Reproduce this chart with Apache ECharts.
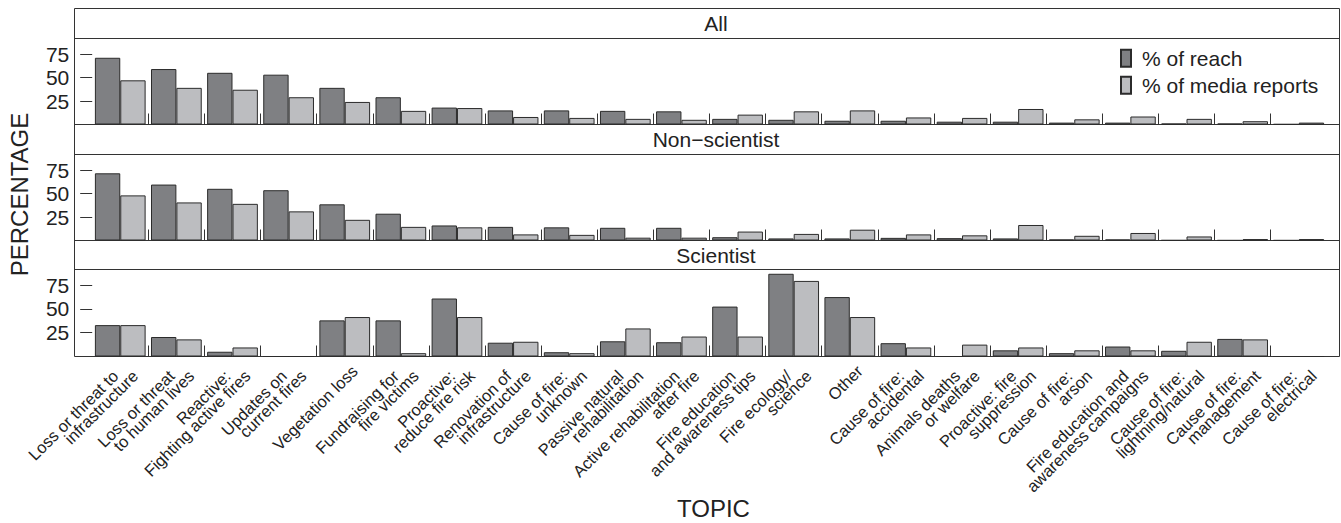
<!DOCTYPE html>
<html><head><meta charset="utf-8">
<script src="https://cdn.jsdelivr.net/npm/echarts@6/dist/echarts.min.js"></script>
<style>html,body{margin:0;padding:0;background:#fff}#c{width:1341px;height:523px}</style>
</head><body><div id="c"></div>
<script>
// ---------- data ----------
const categories = [
  'Loss or threat to\ninfrastructure',
  'Loss or threat\nto human lives',
  'Reactive:\nFighting active fires',
  'Updates on\ncurrent fires',
  'Vegetation loss',
  'Fundraising for\nfire victims',
  'Proactive:\nreduce fire risk',
  'Renovation of\ninfrastructure',
  'Cause of fire:\nunknown',
  'Passive natural\nrehabilitation',
  'Active rehabilitation\nafter fire',
  'Fire education\nand awareness tips',
  'Fire ecology/\nscience',
  'Other',
  'Cause of fire:\naccidental',
  'Animals deaths\nor welfare',
  'Proactive: fire\nsuppression',
  'Cause of fire:\narson',
  'Fire education and\nawareness campaigns',
  'Cause of fire:\nlightning/natural',
  'Cause of fire:\nmanagement',
  'Cause of fire:\nelectrical'
];
const panelNames = ['All', 'Non\u2212scientist', 'Scientist'];
const seriesNames = ['% of reach', '% of media reports'];

const allReach   = [71, 59, 55, 53, 39, 29, 18, 15, 15, 14.5, 14, 6, 5, 4, 4, 3, 3, 2, 2, 1, 1, 0.3];
const allMedia   = [47, 39, 37, 29, 24, 14.5, 17.5, 8, 7, 6, 5, 10.5, 14, 15, 7.5, 7, 16.5, 5.5, 8.5, 6, 3.5, 2];
const nonReach   = [71.5, 59.5, 55, 53.5, 38.5, 28.5, 16, 14.5, 14, 13.5, 13.5, 3.5, 2.2, 2.2, 2.8, 2.5, 2.2, 1.1, 1.1, 0.3, 0.2, 0.2];
const nonMedia   = [48, 40.5, 39, 31, 22, 14.5, 14, 6.5, 6, 3, 3, 9.5, 7, 11.5, 6.5, 5.5, 16.5, 5, 8, 4.3, 1.5, 1.5];
const sciReach   = [33, 20.5, 5, 0, 38, 38, 61, 14.5, 4.5, 16, 15, 52.5, 87, 62.5, 14, 0, 6.5, 3.5, 10.5, 6, 18.5, 0];
const sciMedia   = [33, 18, 9.5, 0, 41.5, 3.5, 41.5, 15.5, 3.5, 29.5, 21, 21, 79.5, 41.5, 9.5, 12.5, 9.5, 6.5, 6.5, 15.5, 18, 0];
const yTicks = [25, 50, 75];

// ---------- layout / style ----------
const FONT = "'Liberation Sans', Arial, Helvetica, sans-serif";
const TXT = '#222';
const LINE = '#333';
const frameL = 74.5, frameR = 1339.5, frameT = 8.5;
const gridL = 92.2, gridW = 1234.6;
const yTickLen = 12;
const yMax = 91.5;
const panels = [
  { strip: 8.5,   top: 38.5,  bottom: 124.5, reach: allReach, media: allMedia },
  { strip: 124.5, top: 154.5, bottom: 240.5, reach: nonReach, media: nonMedia },
  { strip: 240.5, top: 269.5, bottom: 356.5, reach: sciReach, media: sciMedia }
];
const boundaries = categories.slice(1).map((_, i) => i + 1);

function fmtCat(v) {
  const parts = v.split('\n');
  if (parts.length === 1) return '{b|' + v + '}';
  return '{a|' + parts[0] + '}\n{b|' + parts[1] + '}';
}

const grids = [], xAxes = [], yAxes = [], series = [], graphics = [];
panels.forEach((p, i) => {
  grids.push({ left: gridL, width: gridW, top: p.top, height: p.bottom - p.top });
  xAxes.push({
    gridIndex: i, type: 'category', data: categories, position: 'bottom',
    axisLine: { show: false }, axisTick: { show: false }, splitLine: { show: false },
    axisLabel: i === 2 ? {
      show: true, interval: 0, rotate: 45, align: 'right', verticalAlign: 'middle',
      margin: 1.7, padding: [28, 0, 0, 0],
      fontSize: 16.5, fontFamily: FONT, color: TXT, formatter: fmtCat,
      rich: {
        a: { padding: [0, 14, 0, 0], lineHeight: 14, fontSize: 16.5, fontFamily: FONT, color: TXT },
        b: { lineHeight: 14, fontSize: 16.5, fontFamily: FONT, color: TXT }
      }
    } : { show: false }
  });
  xAxes.push({
    gridIndex: i, type: 'value', position: 'bottom', min: 0, max: categories.length,
    axisLine: { show: false }, splitLine: { show: false }, axisLabel: { show: false },
    axisTick: { show: true, inside: true, length: 11, customValues: boundaries, lineStyle: { color: LINE, width: 1 } }
  });
  // y axis line sits yTickLen right of the frame; outward ticks reach back to the frame edge
  yAxes.push({
    gridIndex: i, type: 'value', min: 0, max: yMax, interval: 25,
    offset: gridL - (frameL + yTickLen),
    axisLine: { show: false }, splitLine: { show: false },
    axisTick: { show: true, inside: false, length: yTickLen, lineStyle: { color: LINE, width: 1 } },
    axisLabel: {
      fontSize: 21, fontFamily: FONT, color: TXT, margin: yTickLen + 5.2, padding: [4, 0, 0, 0],
      formatter: v => (yTicks.indexOf(v) >= 0 ? String(v) : '')
    }
  });
  series.push({
    type: 'bar', name: seriesNames[0], xAxisIndex: 2 * i, yAxisIndex: i, data: p.reach,
    barGap: '0%', barCategoryGap: '9.6%',
    itemStyle: { color: '#7f8083', borderColor: '#2b2b2b', borderWidth: 1 }
  });
  series.push({
    type: 'bar', name: seriesNames[1], xAxisIndex: 2 * i, yAxisIndex: i, data: p.media,
    barGap: '0%', barCategoryGap: '9.6%',
    itemStyle: { color: '#bcbdc0', borderColor: '#2b2b2b', borderWidth: 1 }
  });
  graphics.push({ type: 'line', shape: { x1: frameL, y1: p.strip, x2: frameR, y2: p.strip }, style: { stroke: LINE, lineWidth: 1 } });
  graphics.push({ type: 'line', shape: { x1: frameL, y1: p.top, x2: frameR, y2: p.top }, style: { stroke: LINE, lineWidth: 1 } });
  graphics.push({ type: 'line', shape: { x1: frameL, y1: p.bottom, x2: frameR, y2: p.bottom }, style: { stroke: LINE, lineWidth: 1.2 } });
  graphics.push({
    type: 'text', x: 716, y: (p.strip + p.top) / 2,
    style: { text: panelNames[i], font: '21px ' + FONT, fill: TXT, align: 'center', verticalAlign: 'middle', textAlign: 'center', textVerticalAlign: 'middle' }
  });
});
const frameB = panels[2].bottom;
graphics.push({ type: 'line', shape: { x1: frameL, y1: frameT, x2: frameL, y2: frameB }, style: { stroke: LINE, lineWidth: 1 } });
graphics.push({ type: 'line', shape: { x1: frameR, y1: frameT, x2: frameR, y2: frameB }, style: { stroke: LINE, lineWidth: 1 } });
graphics.push({
  type: 'text', x: 19.5, y: 194.5, rotation: Math.PI / 2,
  style: { text: 'PERCENTAGE', font: '24px ' + FONT, fill: TXT, align: 'center', verticalAlign: 'middle', textAlign: 'center', textVerticalAlign: 'middle' }
});
graphics.push({
  type: 'text', x: 713.5, y: 508,
  style: { text: 'TOPIC', font: '24px ' + FONT, fill: TXT, align: 'center', verticalAlign: 'middle', textAlign: 'center', textVerticalAlign: 'middle' }
});

const chart = echarts.init(document.getElementById('c'), null, { renderer: 'svg' });
chart.setOption({
  animation: false,
  backgroundColor: '#fff',
  grid: grids,
  xAxis: xAxes,
  yAxis: yAxes,
  series: series,
  legend: {
    data: seriesNames, orient: 'vertical', left: 1120, top: 47.8,
    itemWidth: 10, itemHeight: 17, itemGap: 6, icon: 'rect', selectedMode: false, padding: 0,
    textStyle: { fontSize: 21, lineHeight: 21, fontFamily: FONT, color: TXT, padding: [0, 0, 0, 6] }
  },
  graphic: graphics
});
</script>
</body></html>
